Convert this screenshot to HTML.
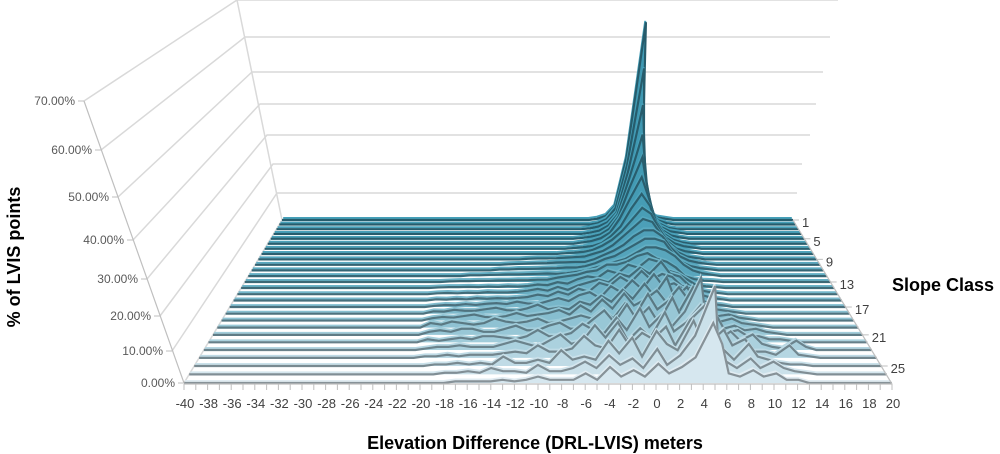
<!DOCTYPE html>
<html><head><meta charset="utf-8"><style>
body{margin:0;background:#fff;}
svg{display:block;font-family:"Liberation Sans",sans-serif;}
</style></head><body>
<svg id="chart" width="1000" height="454" viewBox="0 0 1000 454" xmlns="http://www.w3.org/2000/svg">
<g id="walls"></g>
<g id="series"></g>
<g id="axes"></g>
<text x="0" y="0" transform="translate(20,257) rotate(-90)" text-anchor="middle" font-size="18" font-weight="bold" fill="#000">% of LVIS points</text>
<text x="535" y="449" text-anchor="middle" font-size="18" font-weight="bold" fill="#000">Elevation Difference (DRL-LVIS) meters</text>
<text x="892" y="291" font-size="18" font-weight="bold" fill="#000">Slope Class</text>
</svg>
<script>
const xCategories = []; for (let v = -40; v <= 20; v++) xCategories.push(v);
const yTicks = [0,10,20,30,40,50,60,70];
const yTickLabels = ["0.00%","10.00%","20.00%","30.00%","40.00%","50.00%","60.00%","70.00%"];
const slopeLabels = [1,5,9,13,17,21,25];
const zerosLeft = [0,0,0,0,0,0,0,0,0,0,0,0,0,0,0,0,0,0,0,0];
const zerosRight = [0,0,0,0,0,0];
// values for x = -20..14
const r1=[0,0,0,0,0, 0,0,0,0,0, 0,0,0,0,0, 0,0,.5,1.5,5, 22,64,14,3,1, .5,0,0,0,0, 0,0,0,0,0];
const r2=[0,0,0,0,0, 0,0,0,0,0, 0,0,0,0,0, 0,0,.5,2,6, 21,52,17,4,1.5, .5,0,0,0,0, 0,0,0,0,0];
const r3=[0,0,0,0,0, 0,0,0,0,0, 0,0,0,0,0, 0,.3,1,2.5,6, 20,42,18,5,2, .5,0,0,0,0, 0,0,0,0,0];
const r4=[0,0,0,0,0, 0,0,0,0,0, 0,0,0,0,0, 0,.5,1.2,3,7, 19,34,18,6,2.5, 1,.5,0,0,0, 0,0,0,0,0];
const r5=[0,0,0,0,0, 0,0,0,0,0, 0,0,0,0,0, .3,.8,1.5,3.5,8, 18,28,17,7,3, 1.2,.5,0,0,0, 0,0,0,0,0];
const r6=[0,0,0,0,0, 0,0,0,0,0, 0,0,0,0,0, .5,1,2,4,9, 16,23,16,8,3.5, 1.5,.5,0,0,0, 0,0,0,0,0];
const r7=[0,0,0,0,0, 0,0,0,0,0, 0,0,0,0,.3, .6,1,2,4.5,8, 14,19,15,8,4, 2,1,.5,0,0, 0,0,0,0,0];
const r8=[0,0,0,0,0, 0,0,0,0,0, 0,0,0,.3,.5, .8,1.5,3,5,8, 12,16,14,9,4.5, 2,1,.5,0,0, 0,0,0,0,0];
const r9=[0,0,0,0,0, 0,0,0,0,.2, .3,.3,.4,.6,.8, 1,2,3,5,8, 11,14,13,9,5, 2.5,1,.5,0,0, 0,0,0,0,0];
const r10=[0,0,0,0,0, 0,0,.2,.3,.4, .5,.6,.8,.9,1, 1,2,3.5,5,7, 10,12,12,10,6, 3,1.5,.8,.3,0, 0,0,0,0,0];
const r11=[0,0,0,0,0, 0,.3,.3,.5,.5, .6,.7,.8,1,1, 1.5,2.5,4,5,7, 9,11,11,10,6, 3,1.5,.8,.4,0, 0,0,0,0,0];
const r12=[0,0,0,.3,.3, .4,.5,.6,.6,.7, .8,.9,.8,1,1.5, 2,3,4,5,6, 8,10,10,9,7, 4,2,1,.5,0, 0,0,0,0,0];
const r13=[0,.2,.3,.3,.4, .4,.5,.5,.6,.6, .8,.8,1.5,2,2.5, 3.5,4,6,6,7, 9,10,8,7,5, 2,1,.5,.3,0, 0,0,0,0,0];
const r14=[.2,.3,.3,.4,.3, .5,.4,.6,.5,.7, 1.2,1,2,1.5,3, 4,3.5,6,5,8, 7,10,9,6,5, 3,1,.6,.3,0, 0,0,0,0,0];
const r15=[.3,.4,.3,.5,.4, .7,.6,.6,.8,1.2, 1.8,1.2,2.5,1.5,3, 4,5,4,7,6, 9,7,11,7,6, 3,1.5,.8,.4,0, 0,0,0,0,0];
const r16=[.4,.3,.6,.4,.8, .6,.8,.7,.9,1.2, 2,1.5,3,2,4, 3,6,5,8,6, 10,7,9,8,5, 4,2,1,.5,0, 0,0,0,0,0];
const r17=[.4,.7,.6,1,.7, 1.1,1.3,1,1.8,1.2, 1,2,3,2,4, 5,3,7,5,9, 6,11,7,8,6, 3,2,1,.6,0, 0,0,0,0,0];
const r18=[.8,.7,1.3,1,1, 1.5,2,1.2,1,1.8, 3,1.5,2,1.5,4, 3,6,4,8,5, 10,6,12,5,9, 4,3,1.5,1,.5, 0,0,0,0,0];
const r19=[.8,1.2,1,1.5,2, 1.2,1,1.5,2.5,1.5, 2,2.5,3.5,2,5, 3,7,4,9,5, 7,10,6,11,7, 5,3,1.5,2,1, .5,0,0,0,0];
const r20=[1.5,1,2,1.5,1, 1.5,3,2,1.5,2, 3,1.5,2,3,4, 3,6,3,8,4, 11,6,9,5,13, 6,4,2,3,1.5, 1,.5,0,0,0];
const r21=[1,1.5,1,2,2, 1,1,2,3,1.5, 1.5,3,4,2,2, 5,8,4,10,5, 9,4,12,6,8, 5,4,2,3,1.5, 2,1,.5,0,0];
const r22=[1,.5,1,1.5,1, 2,2,1.5,1,2, 4,2,2,3,6, 4,3,8,4,11, 5,9,5,10,20, 7,8,3,4,2, 2,1,1,.5,0];
const r23=[.5,1,1,1.5,1, 1,1,2,3,2, 1,3,5,2,3, 8,4,9,3,7, 4,12,6,9,14, 6,3,6,3,5, 2,1,.5,3,1];
const r24=[.5,.5,1,.5,1, 1,1,1.5,2,1.5, 4,2,2,3,7, 4,3,9,4,8, 6,10,4,12,16, 5,9,4,6,2, 2,1,4,1,.5];
const r25=[0,.5,.5,1,.5, 1,.5,3,1,1, 2,1,5,2,3, 2,8,4,9,3, 11,7,5,14,8, 6,5,2,7,3, 2,1,.5,.5,0];
const r26=[0,0,.5,.5,1, .5,2,1,1,.5, 3,1,1,2,4, 2,6,3,5,2, 8,3,6,12,26, 10,4,2,5,2, 4,2,1,.5,0];
const r27=[0,0,0,.5,.5, .5,.5,1,.5,1, 2,1,1,1,3, 1,5,2,4,2, 6,3,5,8,18, 12,3,2,4,2, 3,1,1,0,0];
const seriesValues = [r1,r2,r3,r4,r5,r6,r7,r8,r9,r10,r11,r12,r13,r14,r15,r16,r17,r18,r19,r20,r21,r22,r23,r24,r25,r26,r27]
  .map(r => zerosLeft.concat(r).concat(zerosRight));

const NS = "http://www.w3.org/2000/svg";
const fLX=[184,172,160,147,133,118,101,84], fY=[383,351,316,279,240,197,150,101];
const bLX=[282,277,273,267,260,252,245,237], bY=[220,193,164,135,104,72,37,0];
const bRX=[793,797,802,810,816,823,830,838];
const CX=538;
function ip(arr,h){const k=Math.max(0,Math.min(69.999,h))/10;const i=Math.floor(k),f=k-i;
  const a=arr[i],b=arr[Math.min(7,i+1)];let v=a+(b-a)*f; if(h>70){v=arr[7]+(arr[7]-arr[6])*(h-70)/10;} return v;}
function lerp(a,b,t){return a+(b-a)*t;}
function P(xv,t,h){
  const u=(xv-xCategories[0])/(xCategories[xCategories.length-1]-xCategories[0]);
  const lb=ip(bLX,h), wb=ip(bRX,h)-lb, lf=ip(fLX,h), wf=2*(CX-lf)+((892-184)-2*(CX-184));
  const L=lerp(lf,lb,t), W=lerp(wf,wb,t);
  return [L+u*W, lerp(ip(fY,h),ip(bY,h),t)];
}
const N=seriesValues.length;
function rowT(i){const d=(N-1-i)/(N-1);const s=1/(1+0.397*d);return (1-s)/(1-1/1.397);}
function mk(tag,attrs,parent){const e=document.createElementNS(NS,tag);for(const k in attrs)e.setAttribute(k,attrs[k]);parent.appendChild(e);return e;}

const walls=document.getElementById('walls');
yTicks.forEach((h,k)=>{
  const a=P(-40,0,h), b=P(-40,1,h), c=[ip(bRX,h),ip(bY,h)];
  const g=mk('polyline',{points:`${a[0]},${a[1]} ${b[0]},${b[1]} ${c[0]},${c[1]}`,fill:'none',stroke:'#d9d9d9','stroke-width':1.5},walls);
  
  
});
{const a=P(-40,1,0),b=P(-40,1,70);const l=mk('line',{x1:a[0],y1:a[1],x2:b[0],y2:b[1],stroke:'#d9d9d9','stroke-width':1.5},walls);
 
 }

const sg=document.getElementById('series');
function col(a,b,f){return `rgb(${Math.round(lerp(a[0],b[0],f))},${Math.round(lerp(a[1],b[1],f))},${Math.round(lerp(a[2],b[2],f))})`;}
for(let i=0;i<N;i++){
  const t=rowT(i), vals=seriesValues[i];
  const f=Math.pow(i/(N-1),2.0);
  const fill=col([62,152,178],[214,231,239],f), stroke=col([38,92,108],[135,146,152],f), band=col([70,160,185],[225,236,242],f);
  const tb=t+0.012;
  const pts=xCategories.map((x,j)=>P(x,t,vals[j]));
  const ptsB=xCategories.map((x,j)=>P(x,tb,vals[j]));
  const b0=P(xCategories[0],t,0), b1=P(xCategories[xCategories.length-1],t,0);
  const grp=mk('g',{},sg);
  
  
  mk('polygon',{points:pts.map(p=>p.join(',')).join(' ')+` ${b1[0]},${b1[1]} ${b0[0]},${b0[1]}`,fill:fill,stroke:'none'},grp);
  mk('polyline',{points:ptsB.map(p=>p.join(',')).join(' '),fill:'none',stroke:band,'stroke-width':2},grp);
  mk('polyline',{points:pts.map(p=>p.join(',')).join(' '),fill:'none',stroke:stroke,'stroke-width':2.2,'stroke-linejoin':'miter'},grp);
}

const ax=document.getElementById('axes');
{const a=P(-40,0,0),b=P(-40,0,70);const l=mk('line',{x1:a[0],y1:a[1],x2:b[0],y2:b[1],stroke:'#bfbfbf','stroke-width':1.2},ax);
 
 }
yTicks.forEach((h,k)=>{const p=P(-40,0,h);
  mk('line',{x1:p[0]-6,y1:p[1],x2:p[0],y2:p[1],stroke:'#bfbfbf'},ax);
  const tx=mk('text',{x:p[0]-9,y:p[1]+4,'text-anchor':'end','font-size':12,fill:'#595959'},ax);
  tx.textContent=yTickLabels[k];
  
  
});
{const a=P(-40,0,0),b=P(20,0,0);const l=mk('line',{x1:a[0],y1:a[1]+1,x2:b[0],y2:b[1]+1,stroke:'#bfbfbf','stroke-width':1.2},ax);
 
 }
xCategories.forEach(x=>{const p=P(x,0,0);
  mk('line',{x1:p[0],y1:p[1]+1,x2:p[0],y2:p[1]+7,stroke:'#bfbfbf'},ax);
  if(x%2===0){const tx=mk('text',{x:p[0]+1,y:p[1]+25,'text-anchor':'middle','font-size':13,fill:'#404040'},ax);
    tx.textContent=String(x);
    
    }
});
{const a=[ip(bRX,0),ip(bY,0)],b=P(20,0,0);const l=mk('line',{x1:a[0],y1:a[1],x2:b[0],y2:b[1]+1,stroke:'#bfbfbf','stroke-width':1.2},ax);
 
 }
slopeLabels.forEach(s=>{const t=rowT(s-1);const p=P(20,t,0);
  mk('line',{x1:p[0],y1:p[1],x2:p[0]+6,y2:p[1],stroke:'#bfbfbf'},ax);
  const tx=mk('text',{x:p[0]+9,y:p[1]+7,'font-size':13,fill:'#404040'},ax);
  tx.textContent=String(s);
  
  
});
</script>
</body></html>
